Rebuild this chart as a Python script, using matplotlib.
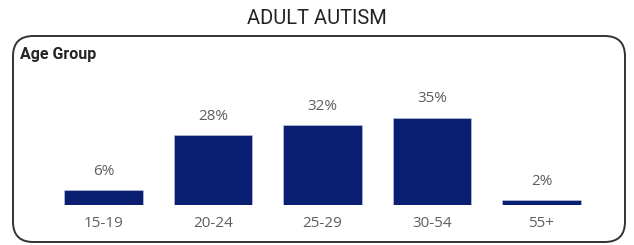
import matplotlib

matplotlib.use("Agg")
import matplotlib.pyplot as plt
from matplotlib.patches import FancyBboxPatch

# age group distribution (percent)
age_groups = ["15-19", "20-24", "25-29", "30-54", "55+"]
shares = [6, 28, 32, 35, 2]

BAR_COLOR = "#0b1f72"
LABEL_GRAY = "#605e5c"
W, H = 634, 245

fig = plt.figure(figsize=(W / 100, H / 100), dpi=100)
fig.patch.set_facecolor("white")

# rounded card around the visual (outline only, drawn behind the axes)
card = FancyBboxPatch(
    (13 / W, 3 / H), 612 / W, 206 / H,
    boxstyle="round,pad=0,rounding_size=0.032",
    transform=fig.transFigure, facecolor="none", edgecolor="#333333",
    linewidth=1.4, mutation_aspect=W / H, zorder=-1,
)
fig.patches.append(card)

fig.text(317 / W, 1 - 18 / H, "ADULT AUTISM", ha="center", va="center",
         fontsize=14.5, family="Roboto", color="#222222")
fig.text(20 / W, 1 - 55 / H, "Age Group", ha="left", va="center",
         fontsize=11.5, family="Roboto", fontweight="bold", color="#252423")

ax = fig.add_axes([48.75 / W, 40 / H, 547.5 / W, 100 / H])
bars = ax.bar(range(len(age_groups)), shares, width=0.72, color=BAR_COLOR,
              edgecolor="#c8cce0", linewidth=0.4)
ax.bar_label(bars, labels=[f"{v}%" for v in shares], padding=8,
             fontsize=11, color=LABEL_GRAY, family="Open Sans")
ax.set_xlim(-0.5, len(age_groups) - 0.5)
ax.set_ylim(0, 40)
ax.set_xticks(range(len(age_groups)))
ax.set_xticklabels(age_groups, fontsize=11, color=LABEL_GRAY, family="Open Sans")
ax.tick_params(axis="x", length=0, pad=8)
ax.set_yticks([])
for side in ax.spines.values():
    side.set_visible(False)
ax.patch.set_alpha(0)

fig.savefig("out.png", dpi=100)
